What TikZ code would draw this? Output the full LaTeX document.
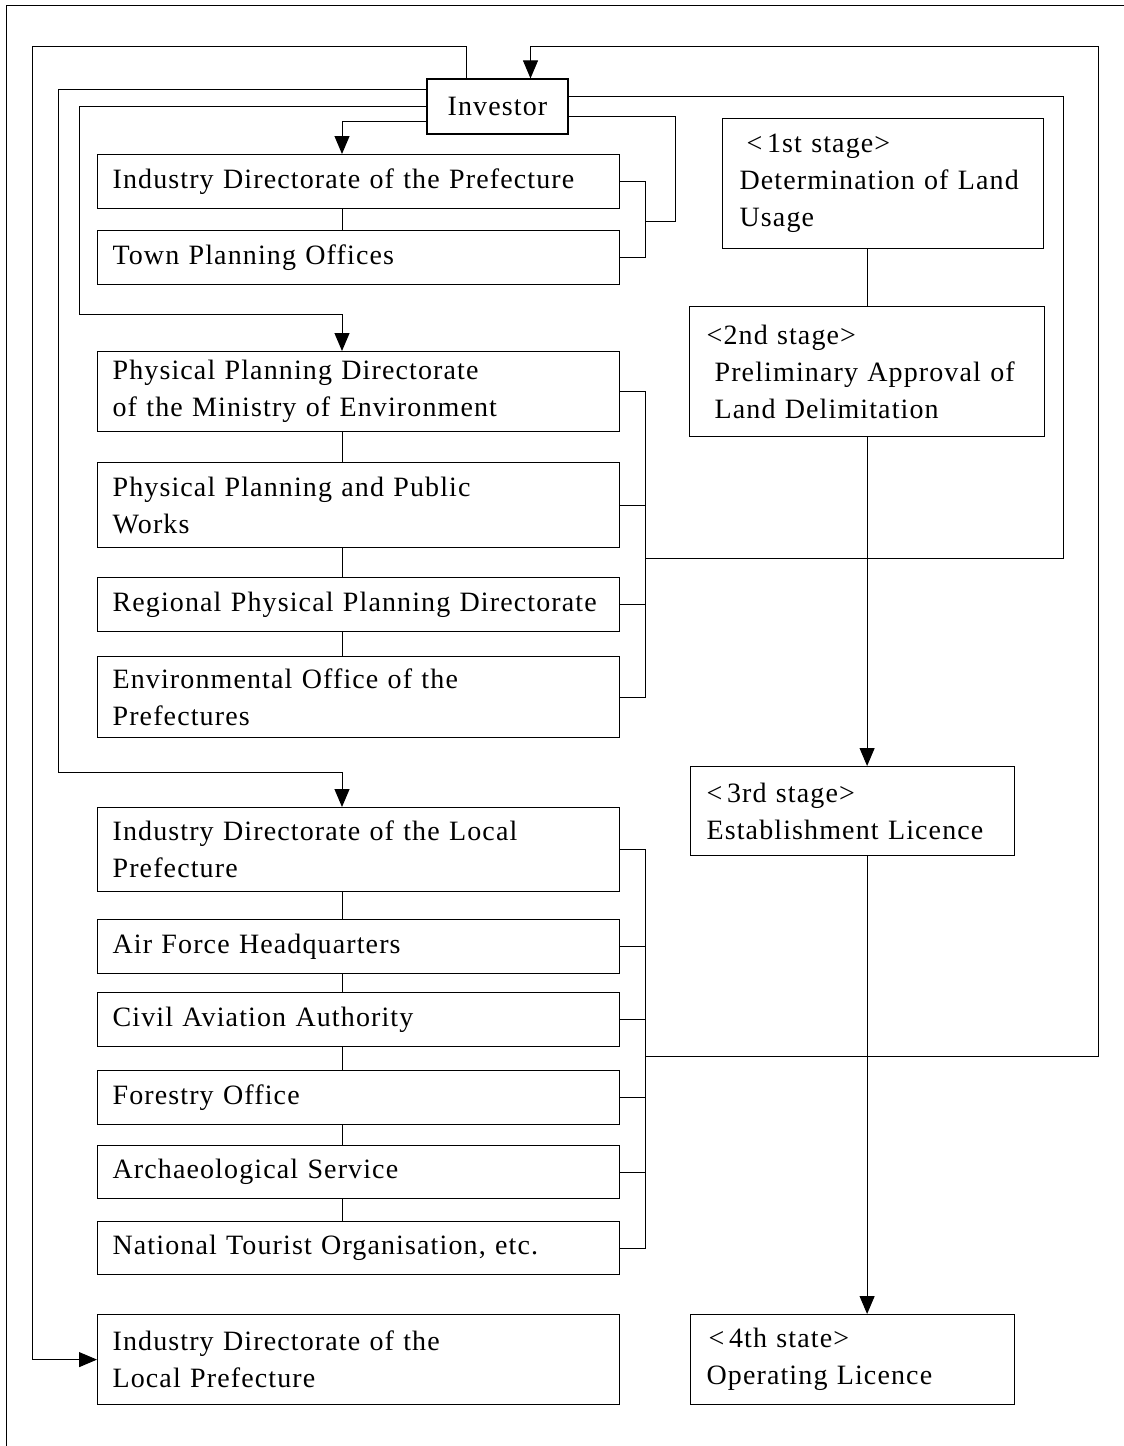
\documentclass[tikz,border=0pt]{standalone}
\usepackage{fontspec}
\setmainfont{Liberation Serif}[LetterSpace=4,WordSpace=1.25]
\usetikzlibrary{arrows.meta}
\tikzset{
  box/.style={draw, line width=1.2pt, anchor=north west, inner xsep=15pt, inner ysep=0pt,
    align=left, text width=492pt, minimum width=522pt, minimum height=54pt,
    font=\fontsize{28}{37}\selectfont},
  stage/.style={box, inner xsep=13pt},
  link/.style={line width=1pt},
  arr/.style={link, -{Triangle[length=18pt,width=15pt]}}
}
\begin{document}
\begin{tikzpicture}[x=1pt,y=-1pt]
\useasboundingbox (0,0) rectangle (1124,1446);
\draw[link] (6,1446) -- (6,5) -- (1124,5);
% investor
\node[draw, line width=1.2pt, minimum width=141pt, minimum height=55pt, inner sep=0pt,
  font=\fontsize{28}{37}\selectfont] (inv) at (497.5,106.5) {Investor};
% left column
\node[box] (idp) at (97,154) {Industry Directorate of the Prefecture};
\node[box] (tpo) at (97,230) {Town Planning Offices};
\node[box, minimum height=80pt] (ppd) at (97,351) {Physical Planning Directorate\\of the Ministry of Environment};
\node[box, minimum height=85pt] (ppw) at (97,462) {Physical Planning and Public\\Works};
\node[box] (rppd) at (97,577) {Regional Physical Planning Directorate};
\node[box, minimum height=81pt] (env) at (97,656) {Environmental Office of the\\Prefectures};
\node[box, minimum height=84pt] (idl) at (97,807) {Industry Directorate of the Local\\Prefecture};
\node[box] (afh) at (97,919) {Air Force Headquarters};
\node[box] (caa) at (97,992) {Civil Aviation Authority};
\node[box] (fo) at (97,1070) {Forestry Office};
\node[box, minimum height=53pt] (arch) at (97,1145) {Archaeological Service};
\node[box, minimum height=53pt] (nto) at (97,1221) {National Tourist Organisation, etc.};
\node[box, minimum height=90pt] (idl2) at (97,1314) {Industry Directorate of the\\Local Prefecture};
% stages
\node[stage, text width=295pt, minimum width=321pt, minimum height=130pt] (st1) at (722,118)
  {\hspace*{11pt}<\,1st stage>\\\hspace*{4pt}Determination of Land\\\hspace*{4pt}Usage};
\node[stage, text width=329pt, minimum width=355pt, minimum height=130pt] (st2) at (689,306)
  {\hspace*{4pt}<2nd stage>\\\hspace*{12pt}Preliminary Approval of\\\hspace*{12pt}Land Delimitation};
\node[stage, text width=298pt, minimum width=324pt, minimum height=89pt] (st3) at (690,766)
  {\hspace*{3pt}<\,3rd stage>\\\hspace*{3pt}Establishment Licence};
\node[stage, text width=298pt, minimum width=324pt, minimum height=90pt] (st4) at (690,1314)
  {\hspace*{5pt}<\,4th state>\\\hspace*{3pt}Operating Licence};
\coordinate (ax) at (342,0);
\coordinate (bx) at (645,0);
\coordinate (b1) at (645,221);
\coordinate (b2) at (645,558);
\coordinate (b3) at (645,1056);
% links inside the groups
\draw[link] (idp.south -| ax) -- (tpo.north -| ax);
\draw[link] (ppd.south -| ax) -- (ppw.north -| ax);
\draw[link] (ppw.south -| ax) -- (rppd.north -| ax);
\draw[link] (rppd.south -| ax) -- (env.north -| ax);
\draw[link] (idl.south -| ax) -- (afh.north -| ax);
\draw[link] (afh.south -| ax) -- (caa.north -| ax);
\draw[link] (caa.south -| ax) -- (fo.north -| ax);
\draw[link] (fo.south -| ax) -- (arch.north -| ax);
\draw[link] (arch.south -| ax) -- (nto.north -| ax);
% brackets
\draw[link] (idp.east) -- (idp.east -| bx) -- (tpo.east -| bx) -- (tpo.east);
\draw[link] (ppd.east) -- (ppd.east -| bx) -- (env.east -| bx) -- (env.east);
\draw[link] (ppw.east) -- (ppw.east -| bx);
\draw[link] (rppd.east) -- (rppd.east -| bx);
\draw[link] (idl.east) -- (idl.east -| bx) -- (nto.east -| bx) -- (nto.east);
\draw[link] (afh.east) -- (afh.east -| bx);
\draw[link] (caa.east) -- (caa.east -| bx);
\draw[link] (fo.east) -- (fo.east -| bx);
\draw[link] (arch.east) -- (arch.east -| bx);
% from the investor
\draw[arr] ([xshift=-31pt]inv.north) |- (32,46) |- (idl2.west);
\draw[arr] ([yshift=17pt]inv.west) -| (58,772) -| (idl.north -| ax);
\draw[arr] (inv.west) -| (79,314) -| (ppd.north -| ax);
\draw[arr] ([yshift=-15pt]inv.west) -| (idp.north -| ax);
% back to the investor
\draw[arr] (b3) -| (1098,46) -| ([xshift=33pt]inv.north);
\draw[link] ([yshift=10pt]inv.east) -| (1063,558) -- (b2);
\draw[link] ([yshift=-10pt]inv.east) -| (675,221) -- (b1);
% stages
\draw[link] (st1.south -| st2.north) -- (st2.north);
\draw[arr] (st2.south) -- (st3.north -| st2.south);
\draw[arr] (st3.south -| st2.south) -- (st4.north -| st2.south);
\end{tikzpicture}
\end{document}
